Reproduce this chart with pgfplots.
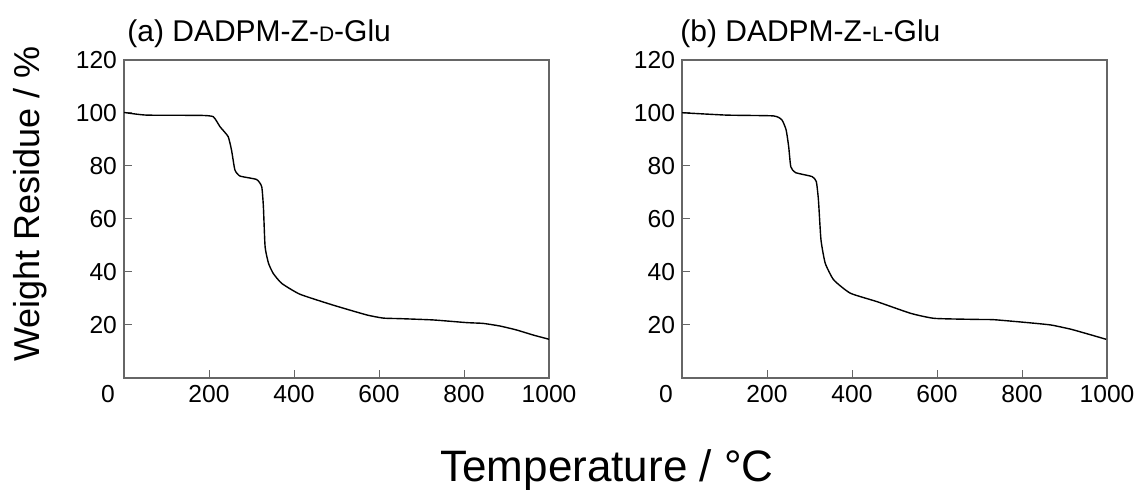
\documentclass[border=0pt]{standalone}
\usepackage{fontspec}
\setmainfont{Liberation Sans}
\usepackage{pgfplots}
\usepackage{pgfplotstable}
\pgfplotsset{compat=1.18}

% TGA curves
\pgfplotstableread{
T W
0 100.2
53 99.2
179 99.1
210 98.6
226 94.8
245 91.1
253 86.0
261 78.5
273 76.2
312 74.9
324 72.2
328 64.6
332 49.5
340 43.3
351 39.5
371 35.7
414 31.6
492 27.5
571 23.8
610 22.6
649 22.4
728 21.9
806 20.9
845 20.6
885 19.6
924 18.1
963 16.2
991 15.0
1000 14.6
}\dglu

\pgfplotstableread{
T W
0 100.1
105 99.2
215 98.9
235 97.4
245 93.6
251 87.3
256 79.7
267 77.5
306 76.0
316 74.1
321 67.2
327 52.1
337 43.3
357 37.0
396 32.0
459 28.8
538 24.4
594 22.5
694 22.1
734 22.0
813 20.9
868 20.0
915 18.4
955 16.6
998 14.6
}\lglu

\pgfplotsset{tga/.style={
    scale only axis, width=212.5pt, height=159pt,
    xmin=0, xmax=1000, ymin=0, ymax=120,
    xtick={200,400,600,800,1000}, ytick={20,40,...,120},
    extra x ticks={0},
    extra x tick style={major tick length=0pt, xticklabel style={xshift=-8pt}},
    xtick pos=bottom, ytick pos=left,
    tick align=inside, major tick length=4pt,
    axis line style={gray!80!black, line width=0.7pt},
    every tick/.style={gray!80!black, line width=0.5pt},
    tick label style={font=\fontsize{12.3}{14}\selectfont},
    /pgf/number format/assume math mode=true,
    /pgf/number format/1000 sep={},
}}

\begin{document}
\begin{tikzpicture}
\useasboundingbox (-62pt,-56pt) rectangle (507pt,189pt);

\begin{axis}[tga, at={(0pt,0pt)}, anchor=south west]
\addplot[black, line width=0.7pt, smooth, tension=0.3] table[x=T, y=W] {\dglu};
\end{axis}

\begin{axis}[tga, at={(279pt,0pt)}, anchor=south west]
\addplot[black, line width=0.7pt, smooth, tension=0.3] table[x=T, y=W] {\lglu};
\end{axis}

\node[anchor=base west, inner sep=0pt, font=\fontsize{15}{18}\selectfont] at (1.5pt,168pt)
  {(a) DADPM-Z-{\fontsize{10.5}{12}\selectfont D}-Glu};
\node[anchor=base west, inner sep=0pt, font=\fontsize{15}{18}\selectfont] at (278pt,168pt)
  {(b) DADPM-Z-{\fontsize{10.5}{12}\selectfont L}-Glu};

\node[rotate=90, font=\fontsize{18}{21}\selectfont] at (-47pt,87pt) {Weight Residue / \%};
\node[font=\fontsize{22}{26}\selectfont] at (241.5pt,-46pt) {Temperature / °C};
\end{tikzpicture}
\end{document}
